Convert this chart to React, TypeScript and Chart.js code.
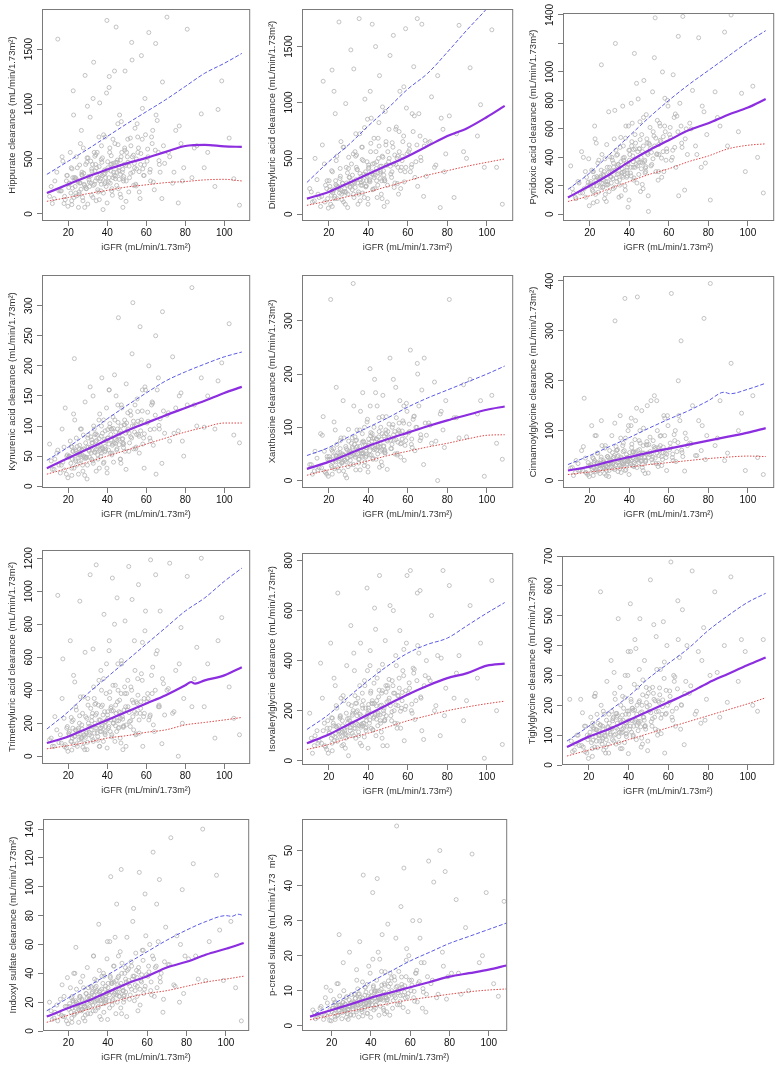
import React, { useEffect, useRef } from "react";
import { Chart, registerables } from "chart.js";
Chart.register(...registerables);

// ---------------- DATA ----------------
const iGFR = [
  10.4, 11.8, 13.1, 14.6, 15.9, 17.2, 18.4, 19.5,
  20.2, 21.0, 21.7, 22.5, 23.1, 23.8, 24.6, 25.2, 25.9, 26.7, 27.3, 27.9, 28.6, 29.1, 29.6, 30.0,
  30.6, 31.2, 31.9, 32.4, 32.8, 33.0, 33.7, 34.3, 34.8, 35.4, 36.1, 36.7, 37.2, 37.8, 38.3, 38.9, 39.4, 39.8,
  40.3, 40.9, 41.5, 42.0, 42.6, 43.2, 43.9, 44.1, 44.5, 45.0, 45.7, 46.3, 46.8, 47.4, 48.0, 48.6, 49.1, 49.7,
  50.3, 51.0, 51.8, 52.5, 53.1, 53.9, 54.6, 55.3, 56.0, 56.8, 57.5, 58.2, 58.9, 59.6,
  60.4, 61.3, 62.2, 63.0, 64.1, 65.0, 66.2, 67.1, 68.3, 69.4,
  70.6, 72.0, 73.5, 75.1, 76.4, 77.8, 79.2,
  81.0, 83.4, 85.9, 88.2,
  91.5, 95.2, 98.7, 102.5, 107.8,
  11.2, 12.7, 14.1, 16.4, 17.8, 19.0,
  20.6, 21.3, 21.9, 22.3, 22.9, 23.5, 24.1, 24.9, 25.5, 26.2, 26.9, 27.5, 28.1, 28.9, 29.3, 29.8, 23.3, 25.7, 27.0, 28.4,
  30.3, 30.9, 31.5, 32.1, 32.6, 33.3, 33.9, 34.5, 35.1, 35.7, 36.4, 36.9, 37.5, 38.0, 38.6, 39.1, 39.6, 31.7, 34.0, 35.9, 37.0, 38.8,
  40.1, 40.6, 41.2, 41.8, 42.3, 42.9, 43.5, 44.3, 44.8, 45.4, 46.0, 46.6, 47.1, 47.7, 48.3, 48.9, 49.4, 41.0, 43.0, 45.2, 47.0, 49.9,
  50.6, 51.4, 52.1, 52.8, 53.5, 54.2, 55.0, 55.7, 56.4, 57.1, 57.9, 58.6, 59.3, 54.9,
  60.9, 61.8, 62.7, 63.6, 64.6, 65.6, 66.7, 68.8,
  71.3, 74.2, 76.9, 78.5,
  84.6, 89.7, 96.8, 104.9,
  15.2, 16.8, 18.1, 19.2, 19.8,
  20.4, 21.5, 22.1, 22.7, 23.6, 24.3, 25.0, 25.8, 26.5, 27.1, 27.7, 28.3, 28.8, 29.5, 21.8, 24.0, 26.0,
  30.1, 30.8, 31.4, 32.0, 32.7, 33.4, 34.1, 34.6, 35.2, 35.8, 36.3, 36.9, 37.4, 38.1, 38.7, 39.3, 39.9, 33.6, 36.6, 39.0,
  40.2, 40.8, 41.3, 41.9, 42.4, 43.1, 43.7, 44.2, 44.9, 45.5, 46.1, 46.7, 47.2, 47.9, 48.4, 49.0, 49.6, 42.2, 45.9, 48.2,
  50.5, 51.2, 52.0, 52.7, 53.4, 54.0, 54.8, 55.6, 56.3, 57.2, 58.0, 59.0,
  60.7, 62.0, 63.3, 64.8, 66.5, 68.0,
];

const hippurateClearance = [
  160, 95, 300, 1590, 210, 480, 130, 350,
  240, 560, 120, 1120, 330, 190, 420, 60, 280, 760, 150, 370, 1260, 230, 510, 90,
  310, 880, 170, 450, 260, 1380, 390, 120, 560, 330, 1010, 210, 470, 40, 360, 700, 250, 1760,
  420, 1150, 280, 530, 170, 380, 640, 320, 1700, 470, 230, 900, 360, 560, 60, 450, 1300, 300,
  520, 200, 690, 1560, 380, 460, 270, 820, 600, 140, 1440, 410, 350, 720,
  480, 1650, 300, 640, 220, 900, 560, 380, 1200, 460,
  1790, 520, 280, 760, 100, 640, 420,
  1680, 330, 620, 910,
  560, 250, 1210, 690, 80,
  250, 140, 380, 210, 95, 300,
  280, 190, 410, 330, 150, 250, 520, 300, 200, 640, 360, 120, 270, 450, 230, 980, 310, 180, 380, 60,
  340, 250, 480, 390, 150, 560, 300, 420, 220, 700, 360, 270, 510, 190, 400, 330, 1100, 280, 450, 130, 620, 370,
  400, 290, 560, 450, 210, 680, 350, 470, 260, 820, 420, 180, 520, 380, 300, 600, 440, 1250, 330, 490, 150, 560,
  470, 330, 620, 520, 260, 780, 410, 560, 200, 450, 680, 350, 1050, 500,
  520, 380, 700, 290, 580, 850, 450, 620,
  560, 380, 800, 300,
  600, 420, 950, 320,
  210, 520, 160, 350, 70,
  275, 420, 235, 900, 330, 165, 290, 445, 225, 350, 600, 260, 245, 470, 85, 320, 285,
  510, 290, 345, 410, 1050, 270, 540, 325, 200, 430, 300, 495, 350, 720, 275, 395, 100, 525, 320, 290,
  475, 330, 600, 390, 230, 460, 1300, 345, 380, 630, 315, 490, 840, 405, 340, 580, 115, 455, 395, 320,
  680, 435, 370, 1400, 535, 420, 255, 700, 385, 550, 960, 445,
  590, 405, 760, 1550, 485, 140,
];
const dimethyluricClearance = [
  230, 110, 500, 180, 70, 1190, 260, 140,
  300, 90, 1290, 220, 160, 480, 250, 1720, 340, 130, 600, 200, 990, 280, 60, 410,
  330, 1470, 220, 540, 150, 280, 720, 400, 90, 1750, 310, 600, 190, 360, 1030, 250, 470, 140,
  420, 290, 860, 1700, 350, 230, 560, 410, 150, 680, 1240, 380, 300, 510, 70, 920, 440, 260,
  470, 1420, 330, 600, 240, 760, 500, 180, 1100, 420, 650, 290, 1660, 540,
  560, 380, 900, 1320, 470, 250, 700, 1700, 610, 340,
  640, 1050, 420, 1240, 60, 760, 540,
  880, 150, 1690, 560,
  1310, 700, 420, 1650, 90,
  200, 120, 310, 160, 450, 230,
  250, 170, 380, 210, 140, 300, 520, 240, 190, 650, 280, 110, 230, 420, 260, 180, 900, 320, 200, 90,
  330, 240, 450, 280, 180, 560, 310, 400, 200, 720, 340, 260, 480, 150, 380, 300, 850, 270, 420, 120, 600, 350,
  410, 300, 560, 380, 220, 680, 350, 470, 260, 820, 430, 180, 520, 390, 300, 620, 440, 1100, 330, 500, 140, 560,
  500, 360, 640, 450, 280, 780, 420, 560, 230, 480, 700, 380, 950, 520,
  580, 420, 740, 330, 620, 900, 480, 660,
  650, 440, 860, 380,
  720, 500, 980, 420,
  150, 620, 110, 300, 55,
  215, 390, 190, 1100, 265, 140, 225, 410, 180, 275, 600, 205, 195, 370, 70, 255, 220,
  510, 250, 300, 350, 1300, 240, 530, 280, 180, 365, 260, 490, 300, 775, 245, 340, 90, 520, 285, 255,
  440, 310, 635, 360, 225, 455, 1500, 300, 370, 610, 320, 430, 960, 350, 300, 650, 110, 450, 365, 315,
  760, 430, 380, 1600, 530, 445, 275, 740, 390, 520, 1140, 420,
  620, 445, 880, 1750, 510, 160,
];
const pyridoxicClearance = [
  340, 150, 110, 220, 440, 180, 260, 390,
  200, 310, 160, 620, 240, 90, 380, 260, 1050, 190, 300, 140, 490, 230, 720, 330,
  260, 400, 180, 530, 310, 1200, 230, 350, 120, 470, 290, 760, 380, 200, 620, 330, 50, 450,
  420, 270, 640, 330, 1130, 500, 220, 380, 810, 460, 160, 560, 360, 940, 290, 700, 430, 20,
  490, 340, 860, 550, 1380, 420, 240, 640, 510, 1000, 300, 580, 460, 760,
  560, 380, 980, 470, 690, 130, 620, 1390, 530, 420,
  640, 870, 480, 1240, 330, 720, 560,
  100, 860, 620, 1280,
  1400, 580, 300, 900, 150,
  180, 120, 230, 150, 300, 200,
  230, 170, 300, 260, 140, 200, 360, 250, 190, 420, 280, 110, 230, 330, 210, 160, 500, 270, 240, 90,
  300, 220, 380, 330, 190, 450, 280, 350, 240, 540, 320, 260, 400, 170, 360, 290, 620, 250, 340, 130, 480, 310,
  380, 290, 480, 410, 240, 560, 350, 440, 280, 650, 400, 210, 480, 370, 300, 530, 420, 780, 330, 460, 180, 500,
  460, 350, 580, 480, 300, 660, 420, 520, 260, 440, 620, 380, 800, 490,
  540, 400, 680, 330, 580, 780, 470, 600,
  600, 420, 760, 360,
  680, 480, 850, 400,
  150, 400, 120, 225, 60,
  215, 300, 200, 530, 265, 155, 225, 310, 190, 270, 390, 210, 205, 295, 80, 255, 220,
  405, 265, 300, 360, 730, 255, 420, 285, 205, 370, 270, 395, 300, 535, 260, 350, 100, 415, 295, 270,
  450, 330, 510, 370, 255, 460, 920, 340, 365, 525, 320, 440, 680, 380, 335, 500, 130, 455, 365, 325,
  610, 435, 390, 1100, 535, 425, 300, 620, 395, 545, 815, 440,
  610, 450, 705, 1250, 500, 170,
];
const kynurenicClearance = [
  70, 28, 45, 60, 22, 40, 130, 52,
  48, 75, 30, 58, 212, 42, 66, 20, 53, 95, 35, 62, 140, 48, 12, 80,
  60, 165, 45, 72, 38, 100, 56, 25, 85, 66, 120, 50, 180, 62, 40, 92, 75, 30,
  80, 160, 55, 95, 68, 40, 110, 78, 150, 62, 280, 88, 45, 130, 72, 102, 58, 170,
  92, 58, 125, 80, 305, 100, 62, 145, 86, 265, 110, 70, 30, 160,
  105, 200, 75, 140, 95, 20, 180, 112, 290, 88,
  118, 75, 215, 130, 92, 155, 50,
  135, 330, 100, 180,
  150, 95, 205, 270, 72,
  42, 28, 55, 35, 65, 20,
  50, 38, 65, 58, 30, 45, 80, 55, 42, 95, 60, 25, 50, 72, 48, 35, 110, 62, 52, 18,
  65, 48, 82, 72, 42, 95, 60, 76, 52, 110, 68, 55, 88, 38, 78, 62, 130, 55, 74, 30, 100, 66,
  80, 60, 98, 86, 52, 115, 72, 90, 60, 135, 82, 45, 100, 78, 64, 110, 88, 160, 70, 95, 38, 105,
  95, 72, 118, 100, 62, 135, 86, 108, 55, 92, 125, 80, 165, 102,
  108, 80, 135, 68, 118, 160, 95, 125,
  122, 88, 150, 75,
  135, 98, 175, 85,
  35, 95, 27, 50, 14,
  50, 66, 45, 120, 60, 35, 52, 68, 43, 61, 85, 48, 46, 65, 18, 58, 51,
  85, 58, 64, 77, 150, 57, 87, 62, 45, 79, 59, 83, 64, 110, 57, 76, 22, 86, 62, 59,
  94, 70, 104, 77, 55, 96, 185, 71, 76, 106, 69, 92, 135, 79, 71, 102, 28, 95, 78, 69,
  122, 88, 82, 220, 108, 90, 65, 124, 83, 106, 160, 87,
  123, 94, 138, 250, 101, 38,
];
const xanthosineClearance = [
  30, 12, 55, 20, 88, 120, 15, 40,
  45, 340, 25, 60, 38, 175, 52, 18, 75, 33, 150, 48, 64, 5, 42, 96,
  55, 30, 80, 370, 48, 68, 20, 95, 58, 40, 130, 52, 165, 72, 35, 62, 110, 26,
  70, 210, 48, 88, 62, 190, 40, 78, 140, 66, 25, 100, 58, 160, 84, 52, 120, 74,
  82, 230, 60, 105, 76, 175, 48, 95, 150, 70, 112, 38, 85, 130,
  90, 245, 62, 120, 100, 200, 75, 170, 230, 85,
  108, 70, 185, 0, 125, 95, 150,
  340, 118, 80, 180,
  190, 125, 8, 160, 40,
  30, 18, 42, 24, 55, 12,
  40, 28, 55, 46, 22, 35, 68, 44, 30, 80, 50, 18, 38, 60, 42, 26, 95, 52, 36, 10,
  52, 38, 70, 60, 30, 82, 48, 64, 40, 95, 56, 44, 74, 28, 66, 50, 115, 46, 62, 20, 88, 55,
  66, 48, 84, 74, 40, 100, 60, 78, 50, 118, 70, 35, 88, 64, 52, 95, 76, 140, 58, 82, 28, 92,
  80, 60, 100, 86, 50, 118, 72, 92, 44, 78, 108, 66, 145, 88,
  92, 68, 115, 56, 100, 140, 80, 108,
  104, 74, 130, 62,
  118, 82, 150, 70,
  24, 85, 17, 45, 8,
  39, 58, 34, 110, 47, 24, 41, 60, 33, 48, 80, 38, 35, 57, 12, 46, 40,
  74, 45, 52, 63, 140, 44, 76, 50, 33, 64, 46, 72, 52, 100, 44, 62, 16, 75, 50, 46,
  78, 56, 90, 64, 42, 80, 165, 57, 63, 92, 55, 77, 120, 65, 57, 88, 21, 79, 63, 55,
  106, 76, 68, 190, 92, 77, 51, 108, 69, 93, 140, 75,
  106, 78, 121, 220, 86, 30,
];
const cinnamoylglycineClearance = [
  25, 10, 40, 20, 60, 165, 15, 30,
  28, 110, 18, 40, 22, 55, 30, 14, 120, 35, 24, 70, 20, 48, 8, 32,
  36, 90, 24, 50, 320, 30, 60, 18, 42, 130, 28, 70, 34, 365, 22, 46, 100, 38,
  44, 110, 30, 58, 36, 120, 26, 368, 50, 80, 40, 140, 32, 55, 14, 72, 150, 46,
  52, 160, 36, 68, 45, 160, 28, 60, 90, 42, 130, 55, 20, 110,
  62, 375, 40, 80, 58, 130, 280, 48, 95, 70,
  75, 150, 50, 120, 60, 325, 90,
  395, 70, 160, 40,
  235, 100, 20, 170, 12,
  26, 16, 34, 20, 45, 12,
  32, 22, 44, 36, 18, 28, 55, 34, 24, 70, 40, 14, 30, 48, 33, 20, 90, 42, 28, 10,
  40, 28, 56, 46, 22, 68, 36, 50, 30, 85, 44, 32, 60, 20, 52, 38, 110, 34, 48, 16, 75, 42,
  48, 34, 66, 56, 28, 82, 42, 60, 36, 100, 52, 26, 70, 46, 38, 78, 55, 125, 40, 62, 20, 72,
  58, 42, 80, 64, 34, 100, 50, 70, 30, 56, 90, 46, 130, 66,
  66, 46, 92, 38, 76, 120, 56, 84,
  74, 50, 110, 42,
  85, 55, 135, 46,
  21, 68, 16, 36, 8,
  30, 46, 26, 90, 36, 19, 31, 47, 25, 37, 65, 29, 27, 45, 10, 35, 31,
  60, 33, 39, 46, 115, 32, 62, 37, 24, 47, 34, 58, 39, 85, 32, 45, 12, 61, 37, 34,
  56, 40, 73, 46, 29, 57, 145, 41, 45, 75, 39, 55, 105, 47, 41, 71, 15, 57, 45, 39,
  87, 54, 47, 170, 66, 55, 34, 89, 48, 67, 125, 53,
  75, 53, 100, 200, 61, 19,
];
const trimethyluricClearance = [
  100, 60, 240, 975, 130, 590, 70, 180,
  140, 700, 90, 220, 120, 300, 60, 170, 940, 110, 260, 80, 630, 150, 40, 350,
  180, 1100, 120, 260, 90, 420, 200, 1160, 140, 310, 60, 520, 190, 250, 860, 130, 380, 220,
  230, 640, 150, 300, 1080, 200, 90, 430, 260, 960, 170, 340, 230, 560, 40, 280, 820, 190,
  280, 1150, 180, 400, 240, 700, 130, 320, 1040, 260, 500, 60, 350, 880,
  330, 220, 1190, 380, 150, 620, 300, 880, 470, 250,
  400, 1170, 260, 520, 0, 780, 350,
  1090, 300, 660, 1200,
  560, 110, 840, 420, 130,
  110, 60, 160, 80, 230, 50,
  150, 90, 210, 170, 70, 120, 280, 160, 100, 360, 190, 55, 130, 240, 140, 85, 450, 200, 115, 40,
  200, 130, 290, 240, 100, 350, 170, 260, 120, 460, 220, 150, 310, 90, 270, 180, 560, 160, 250, 60, 400, 210,
  250, 170, 350, 290, 130, 430, 220, 310, 150, 560, 270, 110, 380, 240, 180, 420, 300, 700, 200, 330, 80, 380,
  300, 210, 420, 340, 160, 520, 260, 370, 140, 290, 460, 240, 760, 330,
  350, 240, 490, 190, 400, 640, 300, 440,
  410, 270, 560, 200,
  470, 300, 700, 230,
  82, 350, 58, 170, 30,
  130, 235, 110, 490, 160, 75, 135, 245, 105, 165, 360, 125, 115, 230, 38, 155, 135,
  310, 145, 180, 215, 650, 140, 320, 170, 97, 220, 150, 300, 180, 470, 140, 210, 50, 315, 170, 150,
  270, 180, 390, 220, 117, 275, 800, 185, 215, 400, 175, 265, 580, 225, 185, 380, 60, 275, 215, 175,
  460, 265, 215, 950, 325, 270, 135, 470, 220, 330, 690, 260,
  380, 250, 540, 1100, 310, 76,
];
const isovalerylglycineClearance = [
  190, 30, 100, 70, 390, 120, 55, 160,
  110, 470, 70, 140, 95, 220, 670, 120, 180, 60, 260, 130, 90, 380, 150, 20,
  160, 540, 110, 200, 130, 360, 90, 180, 250, 140, 470, 60, 210, 150, 300, 120, 690, 190,
  200, 380, 130, 240, 170, 610, 100, 220, 330, 190, 740, 150, 270, 60, 210, 480, 180, 300,
  240, 620, 160, 300, 200, 420, 130, 260, 520, 210, 360, 80, 280, 740,
  270, 760, 190, 350, 240, 460, 680, 120, 300, 400,
  330, 580, 200, 420, 100, 760, 290,
  700, 250, 420, 160,
  620, 330, 10, 720, 65,
  90, 60, 120, 70, 150, 45,
  130, 90, 170, 150, 80, 110, 210, 140, 95, 250, 160, 65, 120, 190, 135, 100, 300, 170, 115, 50,
  170, 120, 220, 190, 100, 260, 150, 200, 115, 300, 180, 140, 240, 95, 210, 160, 360, 145, 195, 70, 270, 175,
  210, 150, 270, 230, 125, 310, 185, 240, 140, 360, 220, 115, 280, 200, 160, 300, 235, 440, 175, 255, 90, 290,
  250, 180, 320, 270, 150, 380, 220, 290, 130, 240, 340, 205, 470, 260,
  290, 200, 370, 165, 320, 430, 250, 340,
  320, 220, 410, 180,
  350, 240, 470, 200,
  78, 250, 60, 130, 30,
  112, 172, 100, 330, 138, 78, 115, 176, 97, 140, 240, 110, 103, 168, 40, 135, 114,
  226, 132, 150, 182, 430, 129, 230, 145, 100, 186, 134, 222, 150, 320, 130, 180, 50, 229, 146, 134,
  225, 163, 278, 185, 122, 228, 525, 166, 183, 282, 160, 222, 385, 188, 165, 274, 60, 228, 183, 160,
  325, 220, 196, 600, 270, 223, 148, 330, 198, 273, 445, 218,
  311, 226, 365, 670, 255, 85,
];
const tiglylglycineClearance = [
  220, 45, 70, 100, 220, 60, 130, 85,
  95, 160, 55, 120, 230, 80, 140, 100, 580, 70, 180, 110, 60, 280, 125, 40,
  120, 350, 85, 160, 100, 240, 70, 140, 490, 110, 200, 55, 150, 130, 300, 95, 180, 380,
  150, 540, 110, 190, 130, 420, 85, 170, 260, 140, 490, 60, 200, 160, 350, 120, 230, 80,
  180, 620, 130, 240, 160, 430, 100, 210, 320, 170, 480, 40, 250, 200,
  210, 680, 150, 280, 190, 420, 120, 520, 240, 400,
  240, 650, 170, 380, 140, 460, 220,
  300, 580, 160, 400,
  630, 280, 380, 200, 420,
  80, 50, 100, 65, 130, 40,
  110, 75, 140, 125, 60, 95, 170, 115, 80, 200, 130, 50, 100, 150, 110, 70, 240, 135, 90, 40,
  140, 100, 180, 155, 80, 220, 125, 165, 95, 260, 145, 110, 190, 75, 170, 130, 300, 120, 160, 55, 230, 140,
  170, 120, 220, 190, 100, 270, 150, 200, 115, 320, 175, 90, 235, 160, 130, 260, 195, 380, 145, 210, 70, 240,
  200, 145, 260, 220, 120, 320, 180, 235, 105, 195, 290, 170, 400, 215,
  230, 160, 300, 130, 255, 360, 200, 280,
  265, 180, 350, 150,
  310, 210, 420, 180,
  65, 175, 45, 100, 22,
  97, 130, 83, 230, 119, 58, 99, 133, 81, 121, 170, 95, 85, 128, 29, 117, 98,
  170, 105, 123, 148, 310, 103, 173, 119, 75, 150, 107, 167, 123, 225, 103, 146, 38, 172, 119, 106,
  181, 130, 212, 148, 95, 184, 390, 132, 146, 215, 128, 178, 285, 150, 132, 209, 48, 183, 146, 128,
  255, 175, 155, 470, 215, 178, 115, 258, 157, 218, 345, 173,
  248, 180, 295, 550, 202, 68,
];
const indoxylSulfateClearance = [
  20, 8, 13, 7, 22, 10, 17, 37,
  15, 30, 9, 20, 12, 58, 17, 6, 24, 14, 38, 19, 11, 26, 44, 16,
  22, 12, 30, 18, 52, 25, 14, 35, 21, 74, 28, 8, 24, 40, 19, 31, 26, 62,
  27, 16, 107, 34, 22, 45, 29, 12, 88, 32, 24, 55, 112, 30, 20, 40, 27, 65,
  33, 22, 48, 36, 85, 28, 42, 14, 110, 35, 56, 26, 95, 39,
  38, 60, 25, 124, 44, 30, 105, 40, 22, 72,
  46, 134, 32, 66, 20, 98, 52,
  50, 116, 36, 140,
  62, 108, 35, 76, 7,
  14, 9, 18, 11, 24, 7,
  19, 13, 24, 21, 11, 16, 29, 19, 14, 34, 22, 9, 17, 26, 20, 12, 40, 23, 15, 7,
  24, 17, 31, 27, 14, 36, 21, 28, 16, 42, 25, 19, 33, 13, 29, 22, 50, 20, 27, 10, 38, 24,
  30, 21, 38, 33, 18, 45, 26, 35, 20, 52, 31, 16, 40, 28, 22, 44, 34, 62, 25, 37, 12, 42,
  35, 25, 45, 38, 21, 54, 31, 41, 18, 34, 49, 29, 66, 37,
  41, 28, 52, 24, 45, 62, 34, 48,
  46, 31, 60, 26,
  52, 35, 70, 30,
  12, 32, 10, 17, 5,
  17, 23, 16, 40, 21, 13, 18, 24, 15, 21, 30, 17, 16, 23, 6, 20, 17,
  30, 21, 23, 26, 52, 20, 31, 22, 17, 27, 21, 29, 23, 38, 20, 26, 8, 30, 22, 21,
  33, 25, 37, 27, 21, 34, 65, 25, 27, 38, 24, 33, 47, 28, 25, 36, 10, 33, 27, 24,
  43, 31, 29, 76, 38, 32, 24, 44, 29, 39, 56, 31,
  45, 34, 50, 88, 37, 13,
];
const pCresolSulfate = [
  4.5, 2, 3.2, 5.5, 1.8, 11, 3.8, 10,
  4, 7.5, 2.5, 5, 3, 26, 6, 2, 18, 4.5, 8, 3.5, 5.5, 21, 3, 6.5,
  5.5, 3, 9, 4.5, 13, 6, 2.5, 24, 7, 4, 43, 5, 11, 6.5, 3.5, 17, 8, 5,
  7, 38, 4.5, 10, 6, 42, 8, 3, 19, 7.5, 26, 5, 12, 9, 4, 29, 8.5, 15,
  9, 5, 14, 8, 57, 10, 6, 34, 11, 45, 8, 22, 4, 13,
  10, 30, 7, 15, 12, 25, 5, 18, 9, 47,
  12, 41, 8, 50, 21, 44, 14,
  15, 36, 9, 28,
  49, 18, 38, 12, 35.5,
  3.8, 2.4, 5, 3, 6.5, 1.5,
  5, 3.5, 6.8, 5.8, 3, 4.4, 8.5, 5.2, 3.8, 10, 6.2, 2.4, 4.6, 7.4, 5.5, 3.2, 12, 6.6, 4, 1.8,
  6.8, 4.8, 9, 7.8, 4, 10.5, 6, 8.2, 4.6, 12.5, 7.2, 5.4, 9.6, 3.6, 8.4, 6.4, 15, 5.8, 7.6, 2.8, 11, 6.9,
  8.4, 6, 11, 9.4, 5, 13, 7.4, 10, 5.6, 15.5, 8.8, 4.4, 11.6, 8, 6.4, 12.8, 9.6, 19, 7, 10.4, 3.4, 12,
  10, 7.2, 13, 11, 6, 15.5, 8.6, 11.8, 5.2, 9.6, 14, 8.2, 20, 10.6,
  11.6, 8, 15, 6.8, 12.6, 18, 9.6, 14,
  13, 9, 17, 7.6,
  15, 10, 20, 8.4,
  3.3, 8, 2.7, 4.6, 1.4,
  4.9, 6.5, 4.5, 12, 5.9, 3.6, 5.1, 6.7, 4.3, 6, 8.3, 4.8, 4.6, 6.4, 1.8, 5.8, 5,
  8.9, 5.9, 6.5, 7.8, 16, 5.8, 9.1, 6.3, 4.7, 7.9, 6, 8.7, 6.5, 11.8, 5.8, 7.7, 2.4, 9, 6.3, 6,
  9.7, 7.4, 11.4, 7.9, 5.9, 9.9, 21, 7.5, 7.8, 11.6, 7.3, 9.6, 15.4, 8, 7.5, 11.2, 3, 9.8, 7.9, 7.3,
  13.7, 9.3, 8.6, 25, 11.3, 9.4, 6.9, 13.9, 8.7, 11.4, 18.7, 9.2,
  13, 9.8, 15.8, 30, 10.6, 3.9,
];

// quantile curves (50th, 90th, 10th percentile) read at these iGFR values
const lineX = [9, 20, 30, 40, 50, 60, 70, 80, 90, 100, 109];

const hippurateP50 = [190, 270, 340, 405, 460, 510, 565, 618, 628, 615, 610];
const hippurateP90 = [360, 480, 590, 705, 820, 930, 1040, 1160, 1280, 1370, 1460];
const hippurateP10 = [115, 150, 185, 215, 245, 265, 285, 295, 310, 315, 300];

const dimethyluricP50 = [140, 200, 280, 360, 440, 520, 610, 700, 770, 870, 970];
const dimethyluricP90 = [285, 470, 620, 790, 950, 1120, 1260, 1450, 1650, 1840, 2030];
const dimethyluricP10 = [80, 120, 160, 200, 250, 300, 350, 390, 430, 465, 495];

const pyridoxicP50 = [118, 200, 280, 370, 450, 520, 590, 640, 700, 750, 810];
const pyridoxicP90 = [175, 290, 420, 550, 680, 800, 910, 1010, 1110, 1210, 1290];
const pyridoxicP10 = [90, 130, 180, 230, 280, 320, 370, 410, 460, 485, 495];

const kynurenicP50 = [30, 47, 62, 77, 92, 105, 118, 130, 142, 155, 165];
const kynurenicP90 = [43, 65, 88, 112, 134, 155, 175, 190, 203, 215, 223];
const kynurenicP10 = [20, 30, 40, 50, 60, 70, 80, 90, 98, 105, 105];

const xanthosineP50 = [22, 35, 50, 65, 78, 90, 102, 113, 123, 133, 139];
const xanthosineP90 = [47, 62, 82, 100, 118, 138, 155, 170, 185, 200, 215];
const xanthosineP10 = [10, 20, 28, 37, 47, 55, 63, 70, 78, 85, 86];

const cinnamoylglycineP50 = [20, 28, 38, 47, 56, 64, 72, 80, 88, 96, 105];
const cinnamoylglycineP90X = [9, 20, 30, 40, 50, 60, 70, 80, 88, 91, 100, 109];
const cinnamoylglycineP90 = [32, 50, 68, 86, 105, 123, 140, 160, 177, 174, 183, 195];
const cinnamoylglycineP10 = [12, 17, 22, 27, 32, 36, 40, 44, 47, 49, 48];

const trimethyluricP50X = [9, 20, 30, 40, 50, 60, 70, 80, 83, 85, 90, 100, 109];
const trimethyluricP50 = [80, 120, 170, 220, 270, 320, 370, 430, 450, 440, 460, 490, 540];
const trimethyluricP90 = [165, 270, 380, 480, 580, 680, 780, 880, 960, 1060, 1140];
const trimethyluricP10 = [45, 65, 85, 110, 125, 145, 160, 190, 205, 220, 235];

const isovalerylglycineP50 = [70, 105, 145, 185, 225, 265, 300, 330, 350, 380, 388];
const isovalerylglycineP90 = [125, 185, 255, 320, 380, 430, 465, 490, 540, 590, 632];
const isovalerylglycineP10 = [45, 65, 90, 110, 135, 160, 180, 200, 215, 228, 238];

const tiglylglycineP50 = [60, 95, 120, 150, 180, 210, 240, 275, 305, 335, 360];
const tiglylglycineP90 = [80, 130, 180, 230, 290, 340, 390, 450, 500, 545, 575];
const tiglylglycineP10 = [30, 50, 65, 85, 105, 125, 145, 165, 185, 205, 225];

const indoxylP50 = [10, 16, 21, 27, 33, 38, 44, 48, 53, 57, 61];
const indoxylP90X = [9, 20, 30, 40, 50, 60, 70, 80, 90, 100, 103, 106, 109];
const indoxylP90 = [14, 23, 31, 39, 47, 55, 63, 70, 76, 80, 79.5, 81, 80];
const indoxylP10 = [6, 11, 15, 19, 23, 26, 28, 31, 34, 36, 38];

const pCresolP50 = [2.6, 4.5, 6.2, 8.0, 9.5, 11, 12.5, 14, 15, 16, 17.2];
const pCresolP90 = [2.6, 6, 9, 12.5, 15.5, 18.5, 21, 23.5, 25.5, 27.5, 29.3];
const pCresolP10 = [1.7, 3, 4.2, 5.3, 6.4, 7.4, 8.2, 9, 9.7, 10.2, 10.5];

// tick values
const xTicks = [20, 40, 60, 80, 100];
const hippurateTicks = [0, 500, 1000, 1500];
const dimethyluricTicks = [0, 500, 1000, 1500];
const pyridoxicTicks = [0, 200, 400, 600, 800, 1000, 1200, 1400];
const kynurenicTicks = [0, 50, 100, 150, 200, 250, 300];
const xanthosineTicks = [0, 100, 200, 300];
const cinnamoylglycineTicks = [0, 100, 200, 300, 400];
const trimethyluricTicks = [0, 200, 400, 600, 800, 1000, 1200];
const isovalerylglycineTicks = [0, 200, 400, 600, 800];
const tiglylglycineTicks = [0, 100, 200, 300, 400, 500, 600, 700];
const indoxylTicks = [0, 20, 40, 60, 80, 100, 120, 140];
const pCresolTicks = [0, 10, 20, 30, 40, 50];

const xTitle = "iGFR (mL/min/1.73m²)";

// ---------------- LAYOUT / STYLE ----------------
const FONT = '"Liberation Sans", Arial, Helvetica, sans-serif';
const PAD_L = 44;
const PAD_T = 12;
const PAD_R = 3;
const PAD_B = 44;

type PanelCfg = {
  title: string;
  y: number[];
  p50: number[];
  p90: number[];
  p10: number[];
  p50x?: number[];
  p90x?: number[];
  p10x?: number[];
  yTicks: number[];
  box: [number, number, number, number];
  xr: [number, number];
  yr: [number, number];
};

const XR: [number, number] = [6.5, 113.3];

const panels: PanelCfg[] = [
  { title: "Hippurate clearance (mL/min/1.73m²)", y: hippurateClearance, p50: hippurateP50, p90: hippurateP90, p10: hippurateP10, yTicks: hippurateTicks, box: [42, 9, 252, 221], xr: XR, yr: [-64, 1864] },
  { title: "Dimethyluric acid clearance (mL/min/1.73m²)", y: dimethyluricClearance, p50: dimethyluricP50, p90: dimethyluricP90, p10: dimethyluricP10, yTicks: dimethyluricTicks, box: [302, 9, 515, 221], xr: XR, yr: [-60, 1836] },
  { title: "Pyridoxic acid clearance (mL/min/1.73m²)", y: pyridoxicClearance, p50: pyridoxicP50, p90: pyridoxicP90, p10: pyridoxicP10, yTicks: pyridoxicTicks, box: [563, 13, 776, 221], xr: XR, yr: [-47, 1414] },
  { title: "Kynurenic acid clearance (mL/min/1.73m²)", y: kynurenicClearance, p50: kynurenicP50, p90: kynurenicP90, p10: kynurenicP10, yTicks: kynurenicTicks, box: [42, 275, 252, 488], xr: XR, yr: [-3, 351] },
  { title: "Xanthosine clearance (mL/min/1.73m²)", y: xanthosineClearance, p50: xanthosineP50, p90: xanthosineP90, p10: xanthosineP10, yTicks: xanthosineTicks, box: [302, 275, 515, 488], xr: XR, yr: [-14, 386] },
  { title: "Cinnamoylglycine clearance (mL/min/1.73m²)", y: cinnamoylglycineClearance, p50: cinnamoylglycineP50, p90: cinnamoylglycineP90, p90x: cinnamoylglycineP90X, p10: cinnamoylglycineP10, yTicks: cinnamoylglycineTicks, box: [563, 276, 776, 488], xr: XR, yr: [-15, 410] },
  { title: "Trimethyluric acid clearance (mL/min/1.73m²)", y: trimethyluricClearance, p50: trimethyluricP50, p50x: trimethyluricP50X, p90: trimethyluricP90, p10: trimethyluricP10, yTicks: trimethyluricTicks, box: [42, 550, 252, 764], xr: XR, yr: [-47, 1250] },
  { title: "Isovalerylglycine clearance (mL/min/1.73m²)", y: isovalerylglycineClearance, p50: isovalerylglycineP50, p90: isovalerylglycineP90, p10: isovalerylglycineP10, yTicks: isovalerylglycineTicks, box: [302, 553, 515, 765], xr: XR, yr: [-17, 830] },
  { title: "Tiglylglycine clearance (mL/min/1.73m²)", y: tiglylglycineClearance, p50: tiglylglycineP50, p90: tiglylglycineP90, p10: tiglylglycineP10, yTicks: tiglylglycineTicks, box: [562, 556, 776, 765], xr: XR, yr: [0, 700] },
  { title: "Indoxyl sulfate clearance (mL/min/1.73m²)", y: indoxylSulfateClearance, p50: indoxylP50, p90: indoxylP90, p90x: indoxylP90X, p10: indoxylP10, yTicks: indoxylTicks, box: [43, 819, 251, 1031], xr: [7.1, 111.8], yr: [0, 147] },
  { title: "p-cresol sulfate (mL/min/1.73  m²)", y: pCresolSulfate, p50: pCresolP50, p90: pCresolP90, p10: pCresolP10, yTicks: pCresolTicks, box: [302, 819, 509, 1031], xr: [4.9, 109.4], yr: [-1.5, 59] },
];

const xy = (xs: number[], ys: number[]) => ys.map((y, i) => ({ x: xs[i], y }));

function Panel({ cfg }: { cfg: PanelCfg }) {
  const ref = useRef<HTMLCanvasElement>(null);
  const [L, T, R, B] = cfg.box;
  const width = R - L + PAD_L + PAD_R;
  const height = B - T + PAD_T + PAD_B;

  useEffect(() => {
    const framePlugin = {
      id: "frame",
      afterDraw(chart: any) {
        const { ctx, chartArea: a } = chart;
        ctx.save();
        ctx.strokeStyle = "#7a7a7a";
        ctx.lineWidth = 1;
        ctx.strokeRect(a.left + 0.5, a.top + 0.5, a.right - a.left - 1, a.bottom - a.top - 1);

        const ys = chart.scales.y;
        ctx.fillStyle = "#111";
        ctx.font = `10px ${FONT}`;
        ctx.textAlign = "center";
        ctx.textBaseline = "middle";
        const gap = ctx.measureText("m").width;
        let lastTop = Infinity;
        for (const v of cfg.yTicks) {
          const p = ys.getPixelForValue(v);
          const label = String(v);
          const w = ctx.measureText(label).width;
          if (p + w / 2 > lastTop - gap) continue;
          ctx.save();
          ctx.translate(a.left - 12.5, p);
          ctx.rotate(-Math.PI / 2);
          ctx.fillText(label, 0, 0);
          ctx.restore();
          lastTop = p - w / 2;
        }

        ctx.fillStyle = "#333";
        ctx.font = `9.5px ${FONT}`;
        ctx.save();
        ctx.translate(a.left - 30, (a.top + a.bottom) / 2);
        ctx.rotate(-Math.PI / 2);
        ctx.fillText(cfg.title, 0, 0);
        ctx.restore();
        ctx.font = `9px ${FONT}`;
        ctx.fillText(xTitle, (a.left + a.right) / 2, a.bottom + 27);
        ctx.restore();
      },
    };

    const chart = new Chart(ref.current as HTMLCanvasElement, {
      type: "scatter",
      data: {
        datasets: [
          {
            type: "line",
            data: xy(cfg.p50x ?? lineX, cfg.p50),
            borderColor: "#8d2de0",
            borderWidth: 2.2,
            pointRadius: 0,
            fill: false,
            cubicInterpolationMode: "monotone",
          },
          {
            type: "line",
            data: xy(cfg.p90x ?? lineX, cfg.p90),
            borderColor: "#5a5ae6",
            borderWidth: 1,
            borderDash: [4, 2],
            pointRadius: 0,
            fill: false,
            cubicInterpolationMode: "monotone",
          },
          {
            type: "line",
            data: xy(cfg.p10x ?? lineX, cfg.p10),
            borderColor: "#e04646",
            borderWidth: 1,
            borderDash: [1.5, 1.5],
            pointRadius: 0,
            fill: false,
            cubicInterpolationMode: "monotone",
          },
          {
            type: "scatter",
            data: xy(iGFR, cfg.y),
            pointRadius: 2,
            pointBorderColor: "#b4b4b4",
            pointBackgroundColor: "rgba(0,0,0,0)",
            pointBorderWidth: 0.8,
          },
        ] as any,
      },
      options: {
        animation: false,
        responsive: false,
        maintainAspectRatio: false,
        devicePixelRatio: 1,
        events: [],
        layout: { padding: { top: PAD_T, right: PAD_R, left: 0, bottom: 0 } },
        plugins: { legend: { display: false }, tooltip: { enabled: false } },
        scales: {
          x: {
            type: "linear",
            min: cfg.xr[0],
            max: cfg.xr[1],
            afterBuildTicks: (s: any) => {
              s.ticks = xTicks.map((v) => ({ value: v }));
            },
            afterFit: (s: any) => {
              s.height = PAD_B;
            },
            grid: { drawOnChartArea: false, drawTicks: true, tickLength: 5, color: "#7a7a7a" },
            border: { display: false },
            ticks: { padding: 1, autoSkip: false, maxRotation: 0, color: "#111", font: { family: FONT, size: 10 } },
          },
          y: {
            type: "linear",
            min: cfg.yr[0],
            max: cfg.yr[1],
            afterBuildTicks: (s: any) => {
              s.ticks = cfg.yTicks.map((v) => ({ value: v }));
            },
            afterFit: (s: any) => {
              s.width = PAD_L;
            },
            grid: { drawOnChartArea: false, drawTicks: true, tickLength: 5, color: "#7a7a7a" },
            border: { display: false },
            ticks: { display: false },
          },
        },
      } as any,
      plugins: [framePlugin],
    });
    return () => chart.destroy();
  }, [cfg]);

  return (
    <canvas
      ref={ref}
      width={width}
      height={height}
      style={{ position: "absolute", left: L - PAD_L, top: T - PAD_T, width, height, display: "block" }}
    />
  );
}

export default function App() {
  return (
    <div
      style={{
        position: "absolute",
        left: 0,
        top: 0,
        width: 780,
        height: 1068,
        overflow: "hidden",
        background: "#fff",
      }}
    >
      {panels.map((p, i) => (
        <Panel key={i} cfg={p} />
      ))}
    </div>
  );
}
